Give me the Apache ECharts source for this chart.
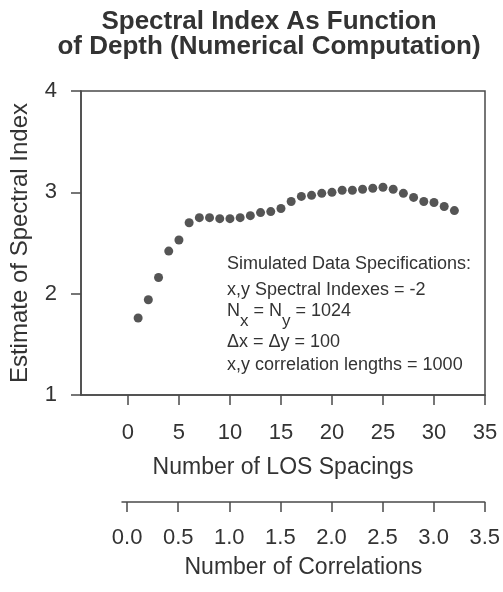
<!DOCTYPE html>
<html>
<head>
<meta charset="utf-8">
<script src="https://cdn.jsdelivr.net/npm/echarts@6/dist/echarts.min.js"></script>
<style>html,body{margin:0;padding:0;background:#fff}#c{width:503px;height:592px}</style>
</head>
<body>
<div id="c"></div>
<script>
// Data
const losSpacings = [1,2,3,4,5,6,7,8,9,10,11,12,13,14,15,16,17,18,19,20,21,22,23,24,25,26,27,28,29,30,31,32];
const spectralIndex = [1.76,1.94,2.16,2.42,2.53,2.70,2.75,2.75,2.74,2.74,2.75,2.77,2.80,2.81,2.84,2.91,2.96,2.97,2.99,3.00,3.02,3.02,3.03,3.04,3.05,3.03,2.99,2.95,2.91,2.90,2.86,2.82];
const losTicks = [0,5,10,15,20,25,30,35];
const corrTicks = [0,0.5,1.0,1.5,2.0,2.5,3.0,3.5];
const yTicks = [1,2,3,4];
const titleText = 'Spectral Index As Function\nof Depth (Numerical Computation)';
const specLines = ['Simulated Data Specifications:', 'x,y Spectral Indexes = -2', '\u0394x = \u0394y = 100', 'x,y correlation lengths = 1000'];

const FONT = 'Liberation Sans, Arial, sans-serif';
const TXT = '#333';
const LINE = '#4a4a4a';

const chart = echarts.init(document.getElementById('c'));
const axisLineStyle = {show: true, onZero: false, lineStyle: {color: LINE, width: 1.5}};
const tickStyle = {show: true, length: 10, lineStyle: {color: LINE, width: 1.5}};

chart.setOption({
  animation: false,
  backgroundColor: '#fff',
  title: {
    text: titleText,
    left: 269,
    top: 9,
    padding: 0,
    textAlign: 'center',
    textStyle: {fontFamily: FONT, fontSize: 26, fontWeight: 'bold', color: TXT, lineHeight: 25}
  },
  grid: [
    {left: 80, right: 18, top: 91, bottom: 197, show: true, borderColor: LINE, borderWidth: 1.5, containLabel: false},
    {left: 122, right: 18, top: 501, bottom: 90, containLabel: false}
  ],
  xAxis: [
    {
      type: 'value', gridIndex: 0, min: -4.6, max: 35,
      axisLine: axisLineStyle,
      axisTick: Object.assign({customValues: losTicks}, tickStyle),
      axisLabel: {customValues: losTicks, fontFamily: FONT, fontSize: 22, color: TXT, margin: 27},
      splitLine: {show: false},
      name: 'Number of LOS Spacings', nameLocation: 'middle', nameGap: 61,
      nameTextStyle: {fontFamily: FONT, fontSize: 23, color: TXT}
    },
    {
      type: 'value', gridIndex: 1, min: -0.05, max: 3.5,
      axisLine: axisLineStyle,
      axisTick: Object.assign({customValues: corrTicks}, tickStyle),
      axisLabel: {customValues: corrTicks, fontFamily: FONT, fontSize: 22, color: TXT, margin: 25,
        formatter: v => v.toFixed(1)},
      splitLine: {show: false},
      name: 'Number of Correlations', nameLocation: 'middle', nameGap: 54,
      nameTextStyle: {fontFamily: FONT, fontSize: 23, color: TXT}
    }
  ],
  yAxis: [
    {
      type: 'value', gridIndex: 0, min: yTicks[0], max: yTicks[yTicks.length - 1], interval: 1,
      axisLine: axisLineStyle,
      axisTick: tickStyle,
      axisLabel: {fontFamily: FONT, fontSize: 22, color: TXT, margin: 24},
      splitLine: {show: false},
      name: 'Estimate of Spectral Index', nameLocation: 'middle', nameGap: 49,
      nameTextStyle: {fontFamily: FONT, fontSize: 24, color: TXT}
    },
    {type: 'value', gridIndex: 1, min: 0, max: 1, show: false}
  ],
  series: [{
    type: 'scatter',
    xAxisIndex: 0, yAxisIndex: 0,
    data: losSpacings.map((x, i) => [x, spectralIndex[i]]),
    symbol: 'circle',
    symbolSize: 9,
    itemStyle: {color: '#2a2a2a'}
  }],
  graphic: [
    {type: 'text', x: 227, y: 264, style: {text: specLines[0], fontFamily: FONT, fontSize: 18, fill: TXT, verticalAlign: 'middle'}},
    {type: 'text', x: 227, y: 290, style: {text: specLines[1], fontFamily: FONT, fontSize: 18, fill: TXT, verticalAlign: 'middle'}},
    {type: 'text', x: 227, y: 302, style: {
      text: '{n|N}{s|x}{n| = N}{s|y}{n| = 1024}',
      fontFamily: FONT, fontSize: 18, fill: TXT, verticalAlign: 'top',
      rich: {
        n: {fontFamily: FONT, fontSize: 18, color: TXT, verticalAlign: 'top', lineHeight: 18},
        s: {fontFamily: FONT, fontSize: 17, color: TXT, verticalAlign: 'top', lineHeight: 17, padding: [11, 0, 0, 0]}
      }
    }},
    {type: 'text', x: 227, y: 342, style: {text: specLines[2], fontFamily: FONT, fontSize: 18, fill: TXT, verticalAlign: 'middle'}},
    {type: 'text', x: 227, y: 365, style: {text: specLines[3], fontFamily: FONT, fontSize: 18, fill: TXT, verticalAlign: 'middle'}}
  ]
});
</script>
</body>
</html>
